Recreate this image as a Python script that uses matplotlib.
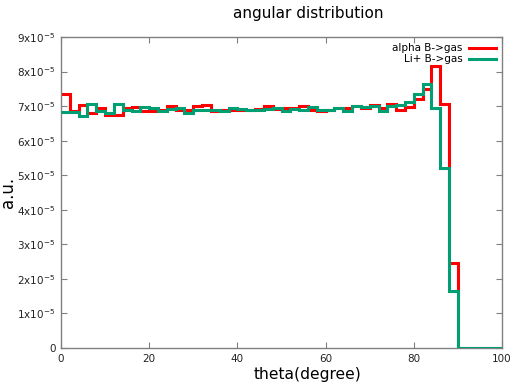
import matplotlib
matplotlib.use("Agg")
import matplotlib.pyplot as plt
import numpy as np

# bin edges (degrees), 2-degree bins from 0 to 100
bin_edges = list(range(0, 101, 2))

# values in units of 1e-5
alpha_vals = [7.35, 6.85, 7.02, 6.80, 6.95, 6.75, 6.75, 6.95, 6.98, 6.85,
              6.85, 6.90, 7.00, 6.90, 6.90, 7.00, 7.03, 6.85, 6.90, 6.90,
              6.88, 6.90, 6.92, 7.00, 6.92, 6.95, 6.95, 7.00, 6.88, 6.85,
              6.90, 6.95, 6.95, 7.00, 6.95, 7.02, 6.95, 7.05, 6.88, 6.97,
              7.21, 7.50, 8.17, 7.07, 2.45, 0, 0, 0, 0, 0]
li_vals = [6.82, 6.82, 6.70, 7.05, 6.85, 6.80, 7.05, 6.90, 6.85, 6.98,
           6.95, 6.85, 6.92, 6.95, 6.80, 6.88, 6.90, 6.90, 6.85, 6.95,
           6.92, 6.90, 6.88, 6.92, 6.95, 6.85, 6.92, 6.90, 6.98, 6.88,
           6.90, 6.95, 6.85, 7.00, 6.98, 7.00, 6.85, 7.00, 7.02, 7.11,
           7.35, 7.65, 6.95, 5.20, 1.65, 0, 0, 0, 0, 0]

series_names = ["alpha B->gas", "Li+ B->gas"]
series_colors = ["#ff0000", "#009e73"]

x_ticks = [0, 20, 40, 60, 80, 100]
y_ticks = [i * 1e-5 for i in range(10)]
y_tick_labels = ["0"] + [f"{i}x10$^{{-5}}$" for i in range(1, 10)]

fig = plt.figure(figsize=(5.17, 3.86), dpi=100)
ax = fig.add_axes([61/517, 1 - 348/386, (502-61)/517, (348-37)/386])

scale = 1e-5
ax.stairs(np.array(alpha_vals) * scale, bin_edges, baseline=None,
          color=series_colors[0], linewidth=2.2, label=series_names[0], zorder=2)
ax.stairs(np.array(li_vals) * scale, bin_edges, baseline=None,
          color=series_colors[1], linewidth=2.2, label=series_names[1], zorder=3)

ax.set_xlim(0, 100)
ax.set_ylim(0, 9e-5)
ax.set_xticks(x_ticks)
ax.set_xticklabels([str(t) for t in x_ticks])
ax.set_yticks(y_ticks)
ax.set_yticklabels(y_tick_labels)

for s in ax.spines.values():
    s.set_color("#808080")
    s.set_linewidth(1.0)
ax.tick_params(direction="in", top=True, right=True, length=4, width=0.8,
               color="#808080", labelsize=7.5, labelcolor="#222222", pad=4)

ax.set_title("angular distribution", fontsize=11, x=0.56, pad=14)
ax.set_xlabel("theta(degree)", fontsize=11.2)
ax.xaxis.set_label_coords(0.56, -0.062)
ax.set_ylabel("a.u.", fontsize=12)
ax.yaxis.set_label_coords(-0.10, 0.5)

leg = ax.legend(loc="upper right", frameon=False, markerfirst=False,
                fontsize=7.5, handlelength=2.6, borderaxespad=0.2,
                labelspacing=0.1, handletextpad=0.6)
for t in leg.get_texts():
    t.set_ha("right")

fig.savefig("out.png", dpi=100)
